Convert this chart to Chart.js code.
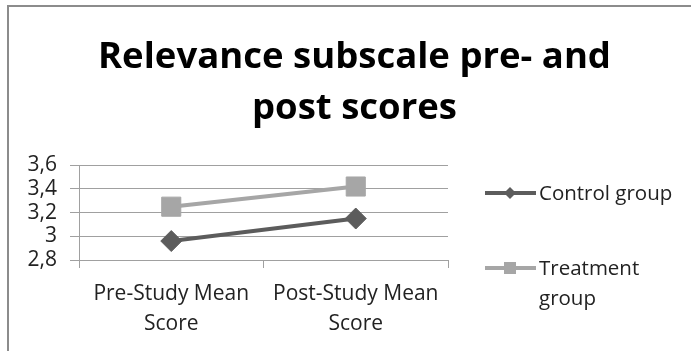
<!DOCTYPE html>
<html>
<head>
<meta charset="utf-8">
<script src="https://cdn.jsdelivr.net/npm/chart.js@4/dist/chart.umd.min.js"></script>
<style>
  html, body { margin: 0; padding: 0; background: #fff; }
  body { width: 691px; height: 351px; overflow: hidden; position: relative; }
  #frame {
    position: absolute; left: 7px; top: 5px; width: 720px; height: 400px;
    border-left: 2px solid #8c8c8c; border-top: 2px solid #8c8c8c;
  }
  #chart { position: absolute; left: 9px; top: 7px; }
</style>
</head>
<body>
<div id="frame"></div>
<canvas id="chart" width="691" height="344"></canvas>
<script>
const titleLines = ['Relevance subscale pre- and', 'post scores'];
const categories = [['Pre-Study Mean', 'Score'], ['Post-Study Mean', 'Score']];
const controlScores = [2.96, 3.15];
const treatmentScores = [3.25, 3.42];
const yTicks = { min: 2.8, max: 3.6, step: 0.2 };

const FONT = '"Open Sans", "Noto Sans", sans-serif';
const CONTROL_COLOR = '#5c5c5c';
const TREATMENT_COLOR = '#a6a6a6';
const GRID_COLOR = '#a0a0a0';
const TEXT_COLOR = '#222';

// legend drawn by hand so the long label can wrap like the original
const sideLegend = {
  id: 'sideLegend',
  afterDraw(chart) {
    const { ctx } = chart;
    const rows = [
      { lineY: 186, textY: 193 },
      { lineY: 261, textY: 268 },
    ];
    ctx.save();
    ctx.font = '20.5px ' + FONT;
    ctx.textBaseline = 'alphabetic';
    chart.data.datasets.forEach((ds, i) => {
      const row = rows[i];
      ctx.strokeStyle = ds.borderColor;
      ctx.lineWidth = 4;
      ctx.beginPath();
      ctx.moveTo(476, row.lineY);
      ctx.lineTo(527, row.lineY);
      ctx.stroke();
      ctx.fillStyle = ds.borderColor;
      if (ds.pointStyle === 'rectRot') {
        ctx.beginPath();
        ctx.moveTo(501 - 6, row.lineY);
        ctx.lineTo(501, row.lineY - 6);
        ctx.lineTo(501 + 6, row.lineY);
        ctx.lineTo(501, row.lineY + 6);
        ctx.closePath();
        ctx.fill();
      } else {
        ctx.fillRect(501 - 6, row.lineY - 6, 12, 12);
      }
      // wrap words at the right edge
      ctx.fillStyle = TEXT_COLOR;
      const words = ds.label.split(' ');
      const lines = [];
      let cur = '';
      words.forEach(w => {
        const test = cur ? cur + ' ' + w : w;
        if (cur && ctx.measureText(test).width > 145) {
          lines.push(cur);
          cur = w;
        } else cur = test;
      });
      lines.push(cur);
      lines.forEach((l, j) => ctx.fillText(l, 530, row.textY + j * 30));
    });
    ctx.restore();
  },
};

new Chart(document.getElementById('chart'), {
  type: 'line',
  data: {
    labels: categories,
    datasets: [
      {
        label: 'Control group',
        data: controlScores,
        borderColor: CONTROL_COLOR,
        backgroundColor: CONTROL_COLOR,
        borderWidth: 4,
        pointStyle: 'rectRot',
        pointRadius: 10.5,
        pointBorderWidth: 1,
      },
      {
        label: 'Treatment group',
        data: treatmentScores,
        borderColor: TREATMENT_COLOR,
        backgroundColor: TREATMENT_COLOR,
        borderWidth: 4,
        pointStyle: 'rect',
        pointRadius: 13.5,
        pointBorderWidth: 1,
      },
    ],
  },
  options: {
    responsive: false,
    animation: false,
    devicePixelRatio: 1,
    plugins: {
      legend: { display: false },
      tooltip: { enabled: false },
      title: {
        display: true,
        text: titleLines,
        color: '#000',
        font: { family: FONT, size: 36.5, weight: 'bold', lineHeight: 1.4 },
        padding: { top: 25, bottom: 31 },
      },
    },
    scales: {
      x: {
        offset: true,
        afterFit(scale) { scale.height = 91; },
        grid: { offset: true, drawOnChartArea: false, tickLength: 8, color: GRID_COLOR },
        border: { display: false },
        ticks: {
          color: TEXT_COLOR,
          padding: 11,
          maxRotation: 0,
          font: { family: FONT, size: 21, lineHeight: 30 / 21 },
        },
      },
      y: {
        min: yTicks.min,
        max: yTicks.max,
        afterFit(scale) { scale.width = 70; },
        grid: { tickLength: 9, color: GRID_COLOR },
        border: { display: true, color: GRID_COLOR },
        ticks: {
          stepSize: yTicks.step,
          autoSkip: false,
          color: TEXT_COLOR,
          padding: 13,
          font: { family: FONT, size: 21 },
          callback: v => String(+v.toFixed(1)).replace('.', ','),
        },
      },
      // empty axis on the right keeps room for the legend without shifting the title
      legendSpace: {
        type: 'linear',
        position: 'right',
        afterFit(scale) { scale.width = 252; },
        grid: { display: false },
        border: { display: false },
        ticks: { display: false },
      },
    },
  },
  plugins: [sideLegend],
});
</script>
</body>
</html>
